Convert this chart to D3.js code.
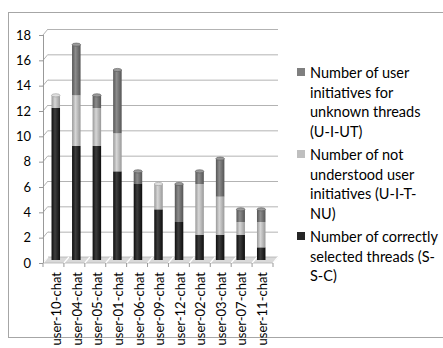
<!DOCTYPE html>
<html>
<head>
<meta charset="utf-8">
<script src="https://cdn.jsdelivr.net/npm/d3@7"></script>
<style>
  html, body { margin: 0; padding: 0; background: #fff; }
  svg { display: block; font-family: Lato, "Open Sans", sans-serif; }
</style>
</head>
<body>
<svg id="chart" width="443" height="348"></svg>
<script>
// Chat sessions and their stacked counts
const categories = ["user-10-chat","user-04-chat","user-05-chat","user-01-chat","user-06-chat",
                    "user-09-chat","user-12-chat","user-02-chat","user-03-chat","user-07-chat","user-11-chat"];
const correctlySelected = [12, 9, 9, 7, 6, 4, 3, 2, 2, 2, 1];   // S-S-C
const notUnderstood     = [1, 4, 3, 3, 0, 2, 0, 4, 3, 1, 2];    // U-I-T-NU
const unknownThreads    = [0, 4, 1, 5, 1, 0, 3, 1, 3, 1, 1];    // U-I-UT
const yTicks = [0, 2, 4, 6, 8, 10, 12, 14, 16, 18];

const seriesNames = [
  ["Number of user", "initiatives for", "unknown threads", "(U-I-UT)"],
  ["Number of not", "understood user", "initiatives (U-I-T-", "NU)"],
  ["Number of correctly", "selected threads (S-", "S-C)"]
];

const svg = d3.select("#chart");

// outer frame
svg.append("rect").attr("x", 8.5).attr("y", 12.5).attr("width", 470).attr("height", 325)
  .attr("fill", "none").attr("stroke", "#a6a6a6");

// scales (front plane) and pseudo-3D depth offsets
const y = d3.scaleLinear().domain([0, 18]).range([263, 35]);
const x = d3.scaleBand().domain(categories).range([43, 269]).paddingInner(0.6).paddingOuter(0.3);
const depth = { dx: 5, dy: -6 };
const mid = { dx: 2.5, dy: -3 };
const plotLeft = 43, plotRight = 273;

// back-wall gridlines with side-wall diagonals
const grid = svg.append("g");
yTicks.forEach(v => {
  if (v > 0) {
    grid.append("line")
      .attr("x1", plotLeft + depth.dx).attr("x2", plotRight + depth.dx)
      .attr("y1", y(v) + depth.dy + 0.5).attr("y2", y(v) + depth.dy + 0.5)
      .attr("stroke", "#b3b3b3").attr("stroke-width", 1);
  }
  grid.append("line")
    .attr("x1", plotLeft).attr("y1", y(v))
    .attr("x2", plotLeft + depth.dx).attr("y2", y(v) + depth.dy)
    .attr("stroke", "#b3b3b3");
});

// floor
const floorPts = [[plotLeft, y(0)], [plotLeft + depth.dx, y(0) + depth.dy],
                  [plotRight + depth.dx, y(0) + depth.dy], [plotRight, y(0)]];
svg.append("polygon").attr("points", floorPts.map(p => p.join(",")).join(" "))
  .attr("fill", "#d9d9d9").attr("stroke", "#b3b3b3").attr("stroke-width", 0.8);

// category boundaries across the floor and x ticks
const step = x.step();
const bounds = d3.range(categories.length + 1).map(i => plotLeft + (plotRight - plotLeft) * i / categories.length);
bounds.forEach(bx => {
  svg.append("line").attr("x1", bx).attr("y1", y(0)).attr("x2", bx + depth.dx).attr("y2", y(0) + depth.dy)
    .attr("stroke", "#fff").attr("stroke-width", 1.2);
  svg.append("line").attr("x1", bx).attr("y1", y(0)).attr("x2", bx).attr("y2", y(0) + 4)
    .attr("stroke", "#999");
});

// y axis
svg.append("line").attr("x1", plotLeft + 0.5).attr("x2", plotLeft + 0.5)
  .attr("y1", y(0)).attr("y2", y(18)).attr("stroke", "#999");
const yAxis = svg.append("g");
yTicks.forEach(v => {
  yAxis.append("line").attr("x1", plotLeft - 4).attr("x2", plotLeft).attr("y1", y(v) + 0.5).attr("y2", y(v) + 0.5)
    .attr("stroke", "#999");
  yAxis.append("text").attr("x", 31).attr("y", y(v)).attr("dy", "0.36em")
    .attr("text-anchor", "end").attr("font-size", 13).attr("fill", "#000").text(v);
});

// cylinder gradients
const defs = svg.append("defs");
const palette = [
  { id: "gSSC", edge: "#0d0d0d", mid: "#3d3d3d", cap: "#4a4a4a" },
  { id: "gNU",  edge: "#999999", mid: "#d6d6d6", cap: "#e0e0e0" },
  { id: "gUT",  edge: "#555555", mid: "#8c8c8c", cap: "#9a9a9a" }
];
palette.forEach(p => {
  const g = defs.append("linearGradient").attr("id", p.id).attr("x1", 0).attr("x2", 1).attr("y1", 0).attr("y2", 0);
  g.append("stop").attr("offset", "0%").attr("stop-color", p.edge);
  g.append("stop").attr("offset", "40%").attr("stop-color", p.mid);
  g.append("stop").attr("offset", "100%").attr("stop-color", p.edge);
});

// stacked data
const rows = categories.map((c, i) => ({ cat: c, ssc: correctlySelected[i], nu: notUnderstood[i], ut: unknownThreads[i] }));
const stack = d3.stack().keys(["ssc", "nu", "ut"])(rows);
const barW = 8.5;
const bars = svg.append("g");
stack.forEach((layer, li) => {
  layer.forEach(d => {
    if (d[1] - d[0] <= 0) return;
    const cx = x(d.data.cat) + x.bandwidth() / 2 + mid.dx;
    bars.append("rect")
      .attr("x", cx - barW / 2).attr("width", barW)
      .attr("y", y(d[1]) + mid.dy).attr("height", y(d[0]) - y(d[1]))
      .attr("fill", `url(#${palette[li].id})`);
  });
});
// cylinder caps on top of each stack
rows.forEach((r, i) => {
  const total = r.ssc + r.nu + r.ut;
  const topLayer = r.ut > 0 ? 2 : (r.nu > 0 ? 1 : 0);
  const cx = x(r.cat) + x.bandwidth() / 2 + mid.dx;
  bars.append("ellipse").attr("cx", cx).attr("cy", y(total) + mid.dy)
    .attr("rx", barW / 2).attr("ry", 1.6)
    .attr("fill", palette[topLayer].cap).attr("stroke", palette[topLayer].edge).attr("stroke-width", 0.6);
});

// x labels (rotated)
const xLabels = svg.append("g");
categories.forEach(c => {
  const cx = x(c) + x.bandwidth() / 2 + mid.dx + 1;
  xLabels.append("text")
    .attr("transform", `translate(${cx},272) rotate(-90)`)
    .attr("text-anchor", "end").attr("dy", "0.35em")
    .attr("font-size", 13).attr("fill", "#000").text(c);
});

// legend
const legendColors = ["#7f7f7f", "#bfbfbf", "#262626"];
const legendTops = [73, 155, 237];
const lineH = 19.5;
const legend = svg.append("g");
seriesNames.forEach((lines, i) => {
  legend.append("rect").attr("x", 297).attr("y", legendTops[i] - 5).attr("width", 8).attr("height", 8)
    .attr("fill", legendColors[i]);
  lines.forEach((t, j) => {
    legend.append("text").attr("x", 310).attr("y", legendTops[i] + j * lineH).attr("dy", "0.35em")
      .attr("font-size", 14.5).attr("fill", "#000").text(t);
  });
});
</script>
</body>
</html>
